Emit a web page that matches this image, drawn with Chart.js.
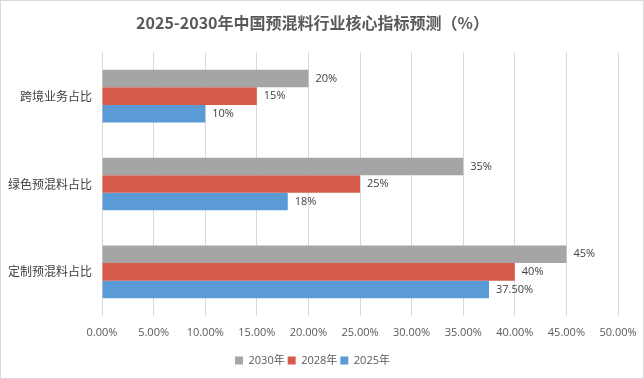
<!DOCTYPE html>
<html><head><meta charset="utf-8">
<script src="https://cdn.jsdelivr.net/npm/chart.js@4/dist/chart.umd.min.js"></script>
<style>
html,body{margin:0;padding:0;background:#fff;}
#wrap{width:644px;height:379px;box-sizing:border-box;border:1px solid #d9d9d9;position:relative;}
canvas{display:block;}
</style></head><body>
<div id="wrap"><canvas id="c" width="642" height="377"></canvas></div>
<script>
const categories = ["跨境业务占比", "绿色预混料占比", "定制预混料占比"];
const seriesNames = ["2030年", "2028年", "2025年"];
const values2030 = [20, 35, 45];
const values2028 = [15, 25, 40];
const values2025 = [10, 18, 37.5];
const labels2030 = ["20%", "35%", "45%"];
const labels2028 = ["15%", "25%", "40%"];
const labels2025 = ["10%", "18%", "37.50%"];
const xTicks = [0, 5, 10, 15, 20, 25, 30, 35, 40, 45, 50];

const colors = ["#a5a5a5", "#d65b4a", "#5b9bd5"];
const FONT = '"Open Sans", "Noto Sans CJK SC", sans-serif';
const CJK = '"Noto Sans CJK SC", sans-serif';

const dataLabelPlugin = {
  id: 'dl',
  afterDatasetsDraw(chart) {
    const ctx = chart.ctx;
    ctx.save();
    ctx.font = '11px ' + FONT;
    ctx.fillStyle = '#404040';
    ctx.textAlign = 'left';
    ctx.textBaseline = 'middle';
    chart.data.datasets.forEach((ds, i) => {
      const meta = chart.getDatasetMeta(i);
      meta.data.forEach((bar, j) => {
        ctx.fillText(ds.labelsText[j], bar.x + 7, bar.y);
      });
    });
    ctx.restore();
  }
};

new Chart(document.getElementById('c'), {
  type: 'bar',
  data: {
    labels: categories,
    datasets: [
      {label: seriesNames[0], data: values2030, labelsText: labels2030, backgroundColor: colors[0]},
      {label: seriesNames[1], data: values2028, labelsText: labels2028, backgroundColor: colors[1]},
      {label: seriesNames[2], data: values2025, labelsText: labels2025, backgroundColor: colors[2]}
    ]
  },
  options: {
    indexAxis: 'y',
    responsive: false,
    animation: false,
    devicePixelRatio: 1,
    layout: {padding: {left: 6, right: 25, top: 10, bottom: 2}},
    datasets: {bar: {categoryPercentage: 0.6, barPercentage: 1.0}},
    scales: {
      x: {
        min: 0, max: 50,
        afterBuildTicks(axis) { axis.ticks = xTicks.map(v => ({value: v})); },
        afterFit(axis) { axis.height += 3; axis.paddingRight = 0; axis.paddingLeft = 0; },
        ticks: {
          callback: v => v.toFixed(2) + '%',
          color: '#595959',
          font: {family: FONT, size: 11},
          padding: 10,
          maxRotation: 0
        },
        grid: {color: '#d9d9d9', drawTicks: false, lineWidth: 1},
        border: {display: false}
      },
      y: {
        afterFit(axis) { axis.width = 95; },
        ticks: {color: '#404040', font: {family: CJK, size: 12}, padding: 10},
        grid: {display: false, drawTicks: false},
        border: {display: false}
      }
    },
    plugins: {
      title: {
        display: true,
        text: '2025-2030年中国预混料行业核心指标预测（%）',
        color: '#595959',
        font: {family: CJK, size: 16, weight: 'bold'},
        padding: {top: 2, bottom: 20}
      },
      legend: {
        position: 'bottom',
        labels: {
          color: '#595959',
          font: {family: FONT, size: 11},
          boxWidth: 8, boxHeight: 8,
          padding: 3
        }
      },
      tooltip: {enabled: false}
    }
  },
  plugins: [dataLabelPlugin]
});
</script>
</body></html>
